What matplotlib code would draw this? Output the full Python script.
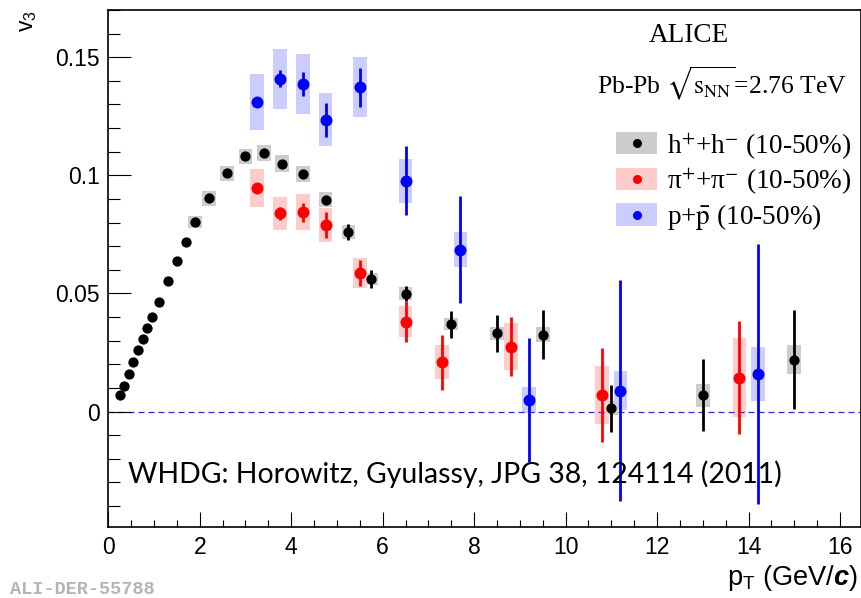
"""
ALICE v3 vs pT for charged hadrons, pions and protons (10-50%).
"""

import matplotlib
matplotlib.use("Agg")
import matplotlib.pyplot as plt
from matplotlib.lines import Line2D
from matplotlib.patches import Rectangle
from matplotlib.ticker import FuncFormatter, MultipleLocator
import numpy as np

# ------------------------------------------------------------------ #
# Data
# ------------------------------------------------------------------ #
pt_h = [0.25, 0.35, 0.45, 0.55, 0.65, 0.75, 0.85, 0.95, 1.1, 1.3, 1.5, 1.7,
        1.9, 2.2, 2.6, 3.0, 3.4, 3.8, 4.25, 4.75, 5.25, 5.75, 6.5, 7.5, 8.5,
        9.5, 11.0, 13.0, 15.0]
v3_h = [0.0071, 0.0110, 0.0158, 0.0210, 0.0261, 0.0306, 0.0354, 0.0401,
        0.0465, 0.0554, 0.0637, 0.0719, 0.0802, 0.0903, 0.1008, 0.1080,
        0.1095, 0.1050, 0.1006, 0.0897, 0.0760, 0.0561, 0.0499, 0.0370,
        0.0332, 0.0325, 0.0014, 0.0069, 0.0220]
stat_h = [0.0005, 0.0005, 0.0005, 0.0005, 0.0005, 0.0005, 0.0005, 0.0005,
          0.0005, 0.0005, 0.0005, 0.0005, 0.0005, 0.0005, 0.0005, 0.0008,
          0.0008, 0.0010, 0.0012, 0.0015, 0.0033, 0.0040, 0.0033, 0.0057,
          0.0078, 0.0104, 0.0100, 0.0152, 0.0208]
sys_h = [0, 0, 0, 0, 0, 0, 0, 0, 0, 0, 0, 0,
         0.0027, 0.0032, 0.0033, 0.0033, 0.0033, 0.0035, 0.0035, 0.0031,
         0.0030, 0.0025, 0.0027, 0.0025, 0.0027, 0.0032, 0.0030, 0.0048,
         0.0060]

pt_pi = [3.25, 3.75, 4.25, 4.75, 5.5, 6.5, 7.3, 8.8, 10.8, 13.8]
v3_pi = [0.0947, 0.0839, 0.0843, 0.0790, 0.0585, 0.0381, 0.0208, 0.0275,
         0.0071, 0.0144]
stat_pi = [0.0010, 0.0028, 0.0041, 0.0055, 0.0055, 0.0085, 0.0118, 0.0126,
           0.0200, 0.0238]
sys_pi = [0.0080, 0.0071, 0.0076, 0.0073, 0.0063, 0.0066, 0.0072, 0.0100,
          0.0122, 0.0169]

pt_p = [3.25, 3.75, 4.25, 4.75, 5.5, 6.5, 7.7, 9.2, 11.2, 14.2]
v3_p = [0.1311, 0.1408, 0.1387, 0.1236, 0.1373, 0.0978, 0.0686, 0.0050,
        0.0089, 0.0160]
stat_p = [0.0010, 0.0036, 0.0051, 0.0072, 0.0082, 0.0145, 0.0225, 0.0262,
          0.0467, 0.0550]
sys_p = [0.0120, 0.0129, 0.0126, 0.0112, 0.0126, 0.0093, 0.0076, 0.0056,
         0.0082, 0.0115]

legend_labels = [r"h$^{+}$+h$^{-}$ (10-50%)",
                 r"π$^{+}$+π$^{-}$ (10-50%)",
                 r"p+$\bar{\mathrm{p}}$ (10-50%)"]

# ------------------------------------------------------------------ #
# Style
# ------------------------------------------------------------------ #
W, H = 862, 598
plt.rcParams["font.family"] = ["Liberation Sans", "DejaVu Sans"]
plt.rcParams["mathtext.fontset"] = "custom"
plt.rcParams["mathtext.rm"] = "Liberation Sans"
plt.rcParams["mathtext.it"] = "Liberation Sans:italic"
plt.rcParams["mathtext.bf"] = "Liberation Sans:bold"
plt.rcParams["mathtext.bfit"] = "Liberation Sans:bold:italic"

series = [
    (pt_h, v3_h, stat_h, sys_h, "black", "#cccccc", 7.4),
    (pt_pi, v3_pi, stat_pi, sys_pi, "#ff0000", "#ffcccc", 8.6),
    (pt_p, v3_p, stat_p, sys_p, "#0000ff", "#ccccff", 8.6),
]


def fx(px):
    return px / W


def fy(py):
    return 1 - py / H


fig = plt.figure(figsize=(W / 100, H / 100), dpi=100)
ax = fig.add_axes([fx(108.3), fy(527.3), fx(861) - fx(108.3), fy(10) - fy(527.3)])

# systematic boxes first, then points with statistical bars
for pt, v3, stat, syst, col, box_col, ms in series:
    pt, v3, syst = np.array(pt), np.array(v3), np.array(syst)
    keep = syst > 0
    ax.bar(pt[keep], 2 * syst[keep], bottom=v3[keep] - syst[keep], width=0.3,
           color=box_col, linewidth=0, zorder=1)

ax.axhline(0, color="#2a2ad0", lw=0.9, ls=(0, (4.8, 3.2)), zorder=1.5)

for pt, v3, stat, syst, col, box_col, ms in series:
    ax.errorbar(pt, v3, yerr=stat, fmt="o", color=col, ms=ms, mew=0,
                elinewidth=2.0, capsize=0, zorder=3)

ax.set_xlim(0, 16.46)
ax.set_ylim(-0.049, 0.170)
ax.xaxis.set_major_locator(MultipleLocator(2))
ax.xaxis.set_minor_locator(MultipleLocator(0.5))
ax.yaxis.set_major_locator(MultipleLocator(0.05))
ax.yaxis.set_minor_locator(MultipleLocator(0.01))
ax.yaxis.set_major_formatter(FuncFormatter(lambda v, _: "%g" % round(v, 4)))
ax.tick_params(which="both", direction="in", top=False, right=False, width=0.8)
ax.tick_params(axis="x", which="major", length=10.6, labelsize=16.5, pad=6)
ax.tick_params(axis="x", which="minor", length=5.3)
ax.tick_params(axis="y", which="major", length=16.3, labelsize=16.5, pad=6)
ax.tick_params(axis="y", which="minor", length=8.4)
for sp in ax.spines.values():
    sp.set_linewidth(1.2)

# ------------------------------------------------------------------ #
# Texts
# ------------------------------------------------------------------ #
renderer = fig.canvas.get_renderer()


def fit_width(txt, width_px):
    w = txt.get_window_extent(renderer=renderer).width
    txt.set_fontsize(txt.get_fontsize() * width_px / w)


fig.text(fx(28), fy(21), r"v$_3$", rotation=90, fontsize=16.5,
         ha="center", va="center")
xl = fig.text(fx(858), fy(585), r"p$_{\mathrm{T}}$ (GeV/$\mathbfit{c}$)",
              fontsize=16.5, ha="right", va="baseline")
fit_width(xl, 131)

tag = fig.text(fx(10), fy(594), "ALI-DER-55788", family="Liberation Mono",
               weight="bold", color="#b4b4b4", fontsize=12, ha="left",
               va="baseline")
fit_width(tag, 145)

whdg = fig.text(fx(128), fy(483), "WHDG: Horowitz, Gyulassy, JPG 38, 124114 (2011)",
                family="Lato", fontsize=20, ha="left", va="baseline")
fit_width(whdg, 653)

alice = fig.text(fx(649), fy(42.5), "ALICE", family="Liberation Serif",
                 fontsize=19, ha="left", va="baseline")
fit_width(alice, 80)
pbpb = fig.text(fx(597), fy(94), r"Pb-Pb $\sqrt{\mathrm{s}_{\mathrm{NN}}}$=2.76 TeV",
                family="Liberation Serif", math_fontfamily="stix",
                fontsize=19, ha="left", va="baseline")
fit_width(pbpb, 250)

# legend
box_tops = [131.7, 167.7, 203.3]
baselines = [154, 189.5, 224.5]
leg_texts = []
for (pt, v3, stat, syst, col, box_col, ms), top, base, lab in zip(
        series, box_tops, baselines, legend_labels):
    fig.add_artist(Rectangle((fx(616), fy(top + 22.5)), 41 / W, 22.5 / H,
                             transform=fig.transFigure, color=box_col, lw=0))
    fig.add_artist(Line2D([fx(637)], [fy(top + 11.2)], marker="o", color=col,
                          ms=6.5, mew=0, transform=fig.transFigure))
    leg_texts.append(fig.text(fx(667), fy(base), lab, family="Liberation Serif",
                              math_fontfamily="stix", fontsize=19, ha="left",
                              va="baseline"))
fit_width(leg_texts[0], 184)
for t in leg_texts[1:]:
    t.set_fontsize(leg_texts[0].get_fontsize())

fig.savefig("out.png", dpi=100)
